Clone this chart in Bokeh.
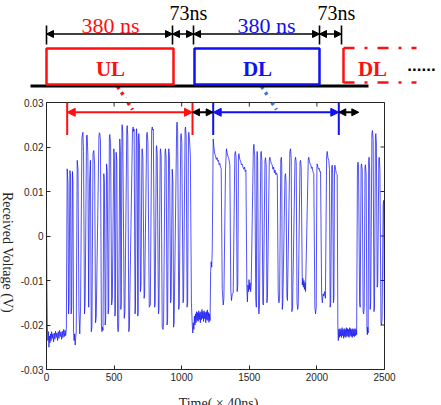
import math
from bokeh.plotting import figure
from bokeh.layouts import row
from bokeh.models import Range1d, FixedTicker, Arrow, NormalHead
from bokeh.embed import file_html
from bokeh.resources import INLINE
from bokeh.core.properties import value

# ---------------- data ----------------
X_TICKS = [0, 500, 1000, 1500, 2000, 2500]
X_TICK_LABELS = ["0", "500", "1000", "1500", "2000", "2500"]
Y_TICKS = [-0.03, -0.02, -0.01, 0, 0.01, 0.02, 0.03]
Y_TICK_LABELS = ["-0.03", "-0.02", "-0.01", "0", "0.01", "0.02", "0.03"]
X_TITLE = "Time( × 40ns)"
Y_TITLE = "Received Voltage (V)"

# frame boundaries (in samples of 40 ns)
UL_WINDOW = [153, 1080]
GAP1_WINDOW = [1080, 1233]
DL_WINDOW = [1233, 2162]
GAP2_WINDOW = [2162, 2310]

SEG_START_PLATEAU = [
    (0, 0.0050), (3, -0.0120), (6, -0.0200), (10, -0.0235), (14, -0.0215), (18, -0.0250),
    (22, -0.0225), (26, -0.0240), (30, -0.0220), (34, -0.0235), (38, -0.0215), (42, -0.0230),
    (47, -0.0220), (52, -0.0238), (57, -0.0218), (62, -0.0232), (67, -0.0214), (72, -0.0228),
    (77, -0.0218), (82, -0.0235), (87, -0.0215), (92, -0.0230), (97, -0.0212), (102, -0.0226),
    (107, -0.0216), (112, -0.0232), (117, -0.0214), (122, -0.0228), (127, -0.0210), (132, -0.0226),
    (137, -0.0212), (142, -0.0224), (147, -0.0208),
]

SEG_UL_PULSES = [
    (153, 0.0151), (159, 0.0120), (163, -0.0175), (167, -0.0150), (173, 0.0147), (178, 0.0135),
    (182, -0.0175), (186, -0.0160), (192, 0.0145), (196, 0.0120), (200, -0.0215), (204, -0.0235),
    (208, -0.0220), (212, -0.0245), (216, -0.0228), (220, -0.0215),
    (227, 0.0170), (233, 0.0150), (240, -0.0170), (246, -0.0220), (252, -0.0160),
    (262, 0.0220), (269, 0.0233), (274, 0.0190), (281, -0.0175), (286, -0.0150),
    (296, 0.0225), (301, 0.0227), (306, 0.0180), (312, -0.0160),
    (318, 0.0120), (325, 0.0170), (331, -0.0215), (336, -0.0205),
    (344, 0.0185), (350, 0.0192), (356, 0.0160), (363, -0.0195), (368, -0.0180),
    (388, 0.0225), (391, 0.0232), (394, 0.0230), (399, 0.0215), (406, -0.0200), (410, -0.0215),
    (414, -0.0205), (418, -0.0212),
    (424, 0.0140), (428, 0.0120), (434, -0.0200), (438, -0.0185),
    (444, 0.0162), (449, 0.0145), (456, -0.0175), (460, -0.0160),
    (465, 0.0220), (468, 0.0228), (471, 0.0218), (474, 0.0210), (482, -0.0155), (487, -0.0140),
    (498, 0.0196), (502, 0.0175), (506, -0.0180), (509, -0.0170),
    (515, 0.0188), (520, 0.0170), (526, -0.0205), (530, -0.0215), (534, -0.0200),
    (542, 0.0218), (546, 0.0190), (550, -0.0165), (553, -0.0150),
    (558, 0.0245), (560, 0.0250), (564, 0.0230), (575, -0.0185), (580, -0.0170),
    (594, 0.0240), (597, 0.0248), (601, 0.0225), (609, -0.0215), (613, -0.0205),
    (636, 0.0238), (641, 0.0245), (644, 0.0235), (648, 0.0240), (655, -0.0175), (658, -0.0160),
    (664, 0.0235), (666, 0.0241), (670, 0.0215), (675, -0.0180), (678, -0.0170),
    (681, 0.0225), (683, 0.0230), (688, 0.0200), (695, -0.0125), (699, -0.0110),
    (706, 0.0190), (708, 0.0196), (713, 0.0175), (722, -0.0140), (726, -0.0130),
    (741, 0.0228), (745, 0.0233), (750, 0.0210), (760, -0.0160), (768, -0.0155),
    (778, 0.0238), (782, 0.0245), (786, 0.0238), (790, 0.0240), (800, -0.0160), (804, -0.0150),
    (812, 0.0195), (814, 0.0203), (819, 0.0185), (828, -0.0175), (832, -0.0165),
    (841, 0.0190), (843, 0.0196), (848, 0.0180), (856, -0.0205), (862, -0.0210), (866, -0.0195),
    (877, 0.0190), (880, 0.0196), (885, 0.0175), (892, -0.0200), (896, -0.0185),
    (903, 0.0190), (905, 0.0196), (910, 0.0175), (918, -0.0150), (922, -0.0140),
    (930, 0.0150), (935, 0.0120), (940, -0.0205), (944, -0.0195),
    (963, 0.0250), (966, 0.0256), (970, 0.0235), (978, -0.0165), (982, -0.0155),
    (993, 0.0225), (996, 0.0230), (1001, 0.0210), (1010, -0.0150), (1014, -0.0140),
    (1025, 0.0240), (1028, 0.0245), (1033, 0.0225), (1040, -0.0160), (1044, -0.0150),
    (1050, 0.0228), (1053, 0.0233), (1058, 0.0215), (1064, 0.0180), (1072, -0.0150), (1078, -0.0200),
]

SEG_MID_PLATEAU = [
    (1082, -0.0218), (1086, -0.0195), (1090, -0.0210), (1094, -0.0180), (1098, -0.0200),
    (1102, -0.0175), (1106, -0.0195), (1110, -0.0170), (1114, -0.0190), (1118, -0.0172),
    (1122, -0.0192), (1126, -0.0168), (1130, -0.0188), (1134, -0.0172), (1138, -0.0195),
    (1142, -0.0170), (1146, -0.0188), (1150, -0.0165), (1154, -0.0185), (1158, -0.0170),
    (1162, -0.0192), (1166, -0.0168), (1170, -0.0186), (1174, -0.0172), (1178, -0.0195),
    (1182, -0.0170), (1186, -0.0188), (1190, -0.0166), (1194, -0.0190), (1198, -0.0172),
    (1202, -0.0194), (1206, -0.0175), (1210, -0.0190),
    (1214, -0.0080), (1218, -0.0058), (1222, -0.0070), (1226, -0.0030),
]

SEG_DL_PULSES = [
    (1233, 0.0218), (1238, 0.0200), (1244, 0.0185), (1250, 0.0180), (1256, 0.0172), (1262, 0.0176),
    (1267, 0.0168), (1272, 0.0170), (1277, 0.0160), (1282, 0.0163), (1287, 0.0155), (1292, 0.0152),
    (1300, -0.0120), (1307, -0.0155), (1312, -0.0140),
    (1324, 0.0150), (1331, 0.0196), (1337, 0.0185), (1343, 0.0178), (1348, 0.0175), (1356, 0.0160),
    (1363, -0.0120), (1368, -0.0145), (1374, -0.0130), (1381, -0.0128),
    (1393, 0.0185), (1398, 0.0190), (1403, 0.0175), (1410, -0.0125), (1415, -0.0110),
    (1420, 0.0180), (1423, 0.0185), (1430, 0.0172), (1436, 0.0168), (1442, 0.0160), (1447, 0.0162),
    (1453, 0.0155), (1460, 0.0150), (1465, 0.0155), (1470, 0.0145), (1475, 0.0148),
    (1482, -0.0120), (1486, -0.0148), (1490, -0.0110), (1494, -0.0125), (1498, -0.0098),
    (1502, -0.0120), (1506, -0.0105), (1510, -0.0125), (1514, -0.0110),
    (1530, 0.0195), (1534, 0.0206), (1540, 0.0180), (1548, -0.0140), (1552, -0.0160),
    (1556, 0.0175), (1558, 0.0190), (1562, 0.0170), (1568, -0.0160), (1571, -0.0175), (1575, -0.0160),
    (1585, 0.0185), (1588, 0.0190), (1593, 0.0170), (1600, -0.0150), (1604, -0.0155),
    (1616, 0.0170), (1620, 0.0176), (1625, 0.0160), (1630, -0.0150), (1634, -0.0140),
    (1648, 0.0170), (1652, 0.0177), (1658, 0.0168), (1664, 0.0162), (1669, 0.0160), (1675, 0.0150),
    (1680, 0.0155), (1686, 0.0142), (1690, 0.0148), (1696, 0.0138), (1702, 0.0142), (1707, 0.0135),
    (1714, -0.0130), (1719, -0.0150), (1724, -0.0140),
    (1733, 0.0172), (1737, 0.0177), (1740, 0.0160), (1744, -0.0165), (1748, -0.0150),
    (1764, 0.0135), (1768, 0.0140), (1772, 0.0120), (1778, -0.0135), (1782, -0.0145),
    (1800, 0.0190), (1805, 0.0196), (1810, 0.0175), (1815, -0.0170), (1820, -0.0160),
    (1838, 0.0170), (1842, 0.0177), (1847, 0.0165), (1853, -0.0150), (1858, -0.0165), (1862, -0.0155),
    (1875, 0.0165), (1879, 0.0170), (1884, 0.0155), (1892, -0.0110), (1896, -0.0095), (1900, -0.0115),
    (1904, -0.0100), (1908, -0.0120), (1912, -0.0105), (1916, -0.0125),
    (1936, 0.0170), (1940, 0.0177), (1945, 0.0168), (1950, 0.0162), (1955, 0.0160), (1960, 0.0152),
    (1965, 0.0155), (1970, 0.0145), (1977, 0.0140),
    (1985, -0.0160), (1990, -0.0175), (1995, -0.0160),
    (2000, 0.0155), (2002, 0.0162), (2007, 0.0155), (2012, 0.0150), (2017, 0.0152), (2022, 0.0144),
    (2027, 0.0145),
    (2035, -0.0130), (2040, -0.0150), (2046, -0.0130), (2051, -0.0135), (2057, -0.0125), (2063, -0.0140),
    (2072, 0.0180), (2076, 0.0190), (2082, 0.0175), (2088, 0.0170), (2093, 0.0150), (2098, -0.0160),
    (2102, -0.0150),
    (2110, 0.0155), (2113, 0.0159), (2117, 0.0140), (2122, -0.0150), (2126, -0.0140),
    (2130, 0.0150), (2133, 0.0159), (2138, 0.0150), (2144, 0.0140), (2150, 0.0138),
]

SEG_END_PLATEAU = [
    (2155, -0.0200), (2158, -0.0235), (2162, -0.0210), (2166, -0.0228), (2170, -0.0208),
    (2174, -0.0225), (2178, -0.0210), (2182, -0.0228), (2186, -0.0206), (2190, -0.0224),
    (2194, -0.0210), (2198, -0.0230), (2202, -0.0208), (2206, -0.0226), (2210, -0.0210),
    (2214, -0.0228), (2218, -0.0206), (2222, -0.0225), (2226, -0.0208), (2230, -0.0226),
    (2234, -0.0210), (2238, -0.0228), (2242, -0.0206), (2246, -0.0224), (2250, -0.0208),
    (2254, -0.0226), (2258, -0.0210), (2262, -0.0228), (2266, -0.0208), (2270, -0.0225),
    (2274, -0.0210), (2278, -0.0226), (2282, -0.0208), (2286, -0.0224), (2290, -0.0210),
    (2294, -0.0222),
]

SEG_TAIL_PULSES = [
    (2300, 0.0160), (2304, 0.0166), (2308, 0.0160), (2316, -0.0150), (2320, -0.0160),
    (2327, 0.0158), (2330, 0.0162), (2335, 0.0150), (2342, -0.0170), (2346, -0.0175), (2350, -0.0160),
    (2356, 0.0155), (2359, 0.0160), (2364, 0.0140), (2370, -0.0210), (2373, -0.0222), (2376, -0.0205),
    (2379, -0.0218),
    (2383, 0.0170), (2386, 0.0177), (2390, 0.0150), (2394, -0.0165), (2398, -0.0150),
    (2407, 0.0230), (2411, 0.0237), (2416, 0.0215), (2422, -0.0170), (2426, -0.0160),
    (2433, 0.0225), (2436, 0.0230), (2440, 0.0210), (2446, -0.0115), (2450, -0.0105),
    (2458, 0.0170), (2461, 0.0177), (2466, 0.0150), (2474, -0.0195), (2478, -0.0200), (2482, -0.0185),
    (2490, 0.0070), (2494, 0.0080), (2498, -0.0100), (2500, -0.0190),
]

SEGMENTS = [SEG_START_PLATEAU, SEG_UL_PULSES, SEG_MID_PLATEAU, SEG_DL_PULSES,
            SEG_END_PLATEAU, SEG_TAIL_PULSES]
TIME = [pt[0] for seg in SEGMENTS for pt in seg]
VOLT = [pt[1] for seg in SEGMENTS for pt in seg]

# ---------------- styles ----------------
RED = "#ff1010"
BLUE = "#1010f0"
DOT_BLUE = "#3f78d8"
SERIF = "Liberation Serif"
SANS = "Liberation Sans"
AXIS_COL = "#262626"


def bare(fig):
    fig.grid.visible = False
    fig.outline_line_color = None
    fig.background_fill_color = "white"
    fig.border_fill_color = "white"
    return fig


# ---------------- top schematic (pixel space) ----------------
top = bare(figure(width=441, height=98, output_backend="svg", toolbar_location=None,
                  x_range=Range1d(0, 441), y_range=Range1d(98, 0),
                  x_axis_type=None, y_axis_type=None, min_border=0))

top.line([117, 125], [86, 98], line_color=RED, line_width=3.5, line_dash="3 4")
top.line([261, 269], [86, 98], line_color=DOT_BLUE, line_width=3.5, line_dash="3 4")
top.line([30, 368], [85.5, 85.5], line_color="black", line_width=3)

top.quad(left=[46], right=[173], top=[48], bottom=[84], fill_color="white",
         line_color=RED, line_width=2.5)
top.quad(left=[194], right=[319], top=[48], bottom=[84], fill_color="white",
         line_color=BLUE, line_width=2.5)
top.line([343, 343], [47.5, 82.5], line_color=RED, line_width=2.5)
top.line([343, 416], [47.5, 47.5], line_color=RED, line_width=2.5, line_dash="11 10 3 10")
top.line([343, 416], [82, 82], line_color=RED, line_width=2.5, line_dash="11 10 3 10")

for x, txt, col in ((110, "UL", RED), (257, "DL", BLUE), (372, "DL", RED)):
    top.text(x=[x], y=[68], text=[txt], text_color=col, text_font=value(SERIF),
             text_font_style="bold", text_font_size="21px", text_align="center",
             text_baseline="middle")
top.text(x=[421], y=[64], text=["......"], text_color="black", text_font=value(SANS),
         text_font_style="bold", text_font_size="17px", text_align="center",
         text_baseline="alphabetic")

TICK_X = [46, 172, 193, 319, 341]
top.segment(x0=TICK_X, y0=[25] * 5, x1=TICK_X, y1=[44] * 5, line_color="black", line_width=1.6)
for a, b in zip(TICK_X[:-1], TICK_X[1:]):
    top.add_layout(Arrow(x_start=a, y_start=33.5, x_end=b, y_end=33.5, line_color="black",
                         line_width=1.5,
                         start=NormalHead(size=7, fill_color="black", line_color="black"),
                         end=NormalHead(size=7, fill_color="black", line_color="black")))

top.text(x=[110], y=[25], text=["380 ns"], text_color=RED, text_font=value(SERIF),
         text_font_size="22px", text_align="center", text_baseline="middle")
top.text(x=[266], y=[25], text=["380 ns"], text_color=BLUE, text_font=value(SERIF),
         text_font_size="22px", text_align="center", text_baseline="middle")
top.text(x=[188], y=[12], text=["73ns"], text_color="black", text_font=value(SERIF),
         text_font_size="20px", text_align="center", text_baseline="middle")
top.text(x=[336], y=[12], text=["73ns"], text_color="black", text_font=value(SERIF),
         text_font_size="20px", text_align="center", text_baseline="middle")

# ---------------- y title strip ----------------
ylab = bare(figure(width=17, height=292, output_backend="svg", toolbar_location=None,
                   x_range=Range1d(0, 17), y_range=Range1d(-0.03, 0.03),
                   x_axis_type=None, y_axis_type=None,
                   min_border_left=0, min_border_right=0, min_border_top=4, min_border_bottom=21))
ylab.text(x=[7], y=[-0.0037], text=[Y_TITLE], angle=-math.pi / 2, text_font=value(SERIF),
          text_font_size="14px", text_color=AXIS_COL, text_align="center", text_baseline="middle")

# ---------------- main plot ----------------
p = figure(width=424, height=292, output_backend="svg", toolbar_location=None,
           x_range=Range1d(0, 2500), y_range=Range1d(-0.03, 0.03),
           min_border_top=4, min_border_left=29, min_border_right=57, min_border_bottom=21)
p.grid.visible = False
p.outline_line_color = AXIS_COL
p.background_fill_color = "white"
p.border_fill_color = "white"

for ax, ticks, labels in ((p.xaxis[0], X_TICKS, X_TICK_LABELS), (p.yaxis[0], Y_TICKS, Y_TICK_LABELS)):
    ax.ticker = FixedTicker(ticks=ticks)
    ax.major_label_overrides = {t: l for t, l in zip(ticks, labels)}
    ax.major_tick_in = 4
    ax.major_tick_out = 0
    ax.minor_tick_in = 0
    ax.minor_tick_out = 0
    ax.major_label_standoff = 3
    ax.major_label_text_font = SANS
    ax.major_label_text_font_size = "10px"
    ax.major_label_text_color = AXIS_COL
    ax.axis_line_color = AXIS_COL
    ax.major_tick_line_color = AXIS_COL

# inward ticks on top and right edges of the box
TICK_LEN_X = 4 / (338 / 2500)
TICK_LEN_Y = 4 / (267 / 0.06)
p.segment(x0=X_TICKS, y0=[Y_TICKS[-1]] * len(X_TICKS), x1=X_TICKS,
          y1=[Y_TICKS[-1] - TICK_LEN_Y] * len(X_TICKS), line_color=AXIS_COL, line_width=1)
p.segment(x0=[X_TICKS[-1]] * len(Y_TICKS), y0=Y_TICKS, x1=[X_TICKS[-1] - TICK_LEN_X] * len(Y_TICKS),
          y1=Y_TICKS, line_color=AXIS_COL, line_width=1)

# waveform
p.line(TIME, VOLT, line_color=BLUE, line_width=0.8, line_alpha=0.9)

# dotted connectors (lower part)
p.line([602, 636], [0.03, 0.0284], line_color=RED, line_width=3.5, line_dash="3 4")
p.line([1667, 1701], [0.03, 0.0284], line_color=DOT_BLUE, line_width=3.5, line_dash="3 4")

ARROW_V = 0.0278
MARK_BOTTOM = 0.0227
p.segment(x0=UL_WINDOW, y0=[MARK_BOTTOM] * 2, x1=UL_WINDOW, y1=[0.03] * 2,
          line_color=RED, line_width=2)
p.segment(x0=DL_WINDOW, y0=[MARK_BOTTOM] * 2, x1=DL_WINDOW, y1=[0.03] * 2,
          line_color=BLUE, line_width=2)


def darrow(win, col, size):
    p.add_layout(Arrow(x_start=win[0], y_start=ARROW_V, x_end=win[1], y_end=ARROW_V,
                       line_color=col, line_width=2,
                       start=NormalHead(size=size, fill_color=col, line_color=col),
                       end=NormalHead(size=size, fill_color=col, line_color=col)))


darrow(UL_WINDOW, RED, 8)
darrow(DL_WINDOW, BLUE, 8)
darrow(GAP1_WINDOW, "black", 7)
darrow(GAP2_WINDOW, "black", 7)

# ---------------- x title strip (cut at the window's bottom edge) ----------------
xlab = bare(figure(width=441, height=15, output_backend="svg", toolbar_location=None,
                   x_range=Range1d(0, 441), y_range=Range1d(15, 0),
                   x_axis_type=None, y_axis_type=None, min_border=0))
xlab.text(x=[218], y=[5.5], text=[X_TITLE], text_font=value(SERIF), text_font_size="14px",
          text_color=AXIS_COL, text_align="center", text_baseline="top")

open("out.html", "w").write(file_html([top, row(ylab, p), xlab], INLINE))
